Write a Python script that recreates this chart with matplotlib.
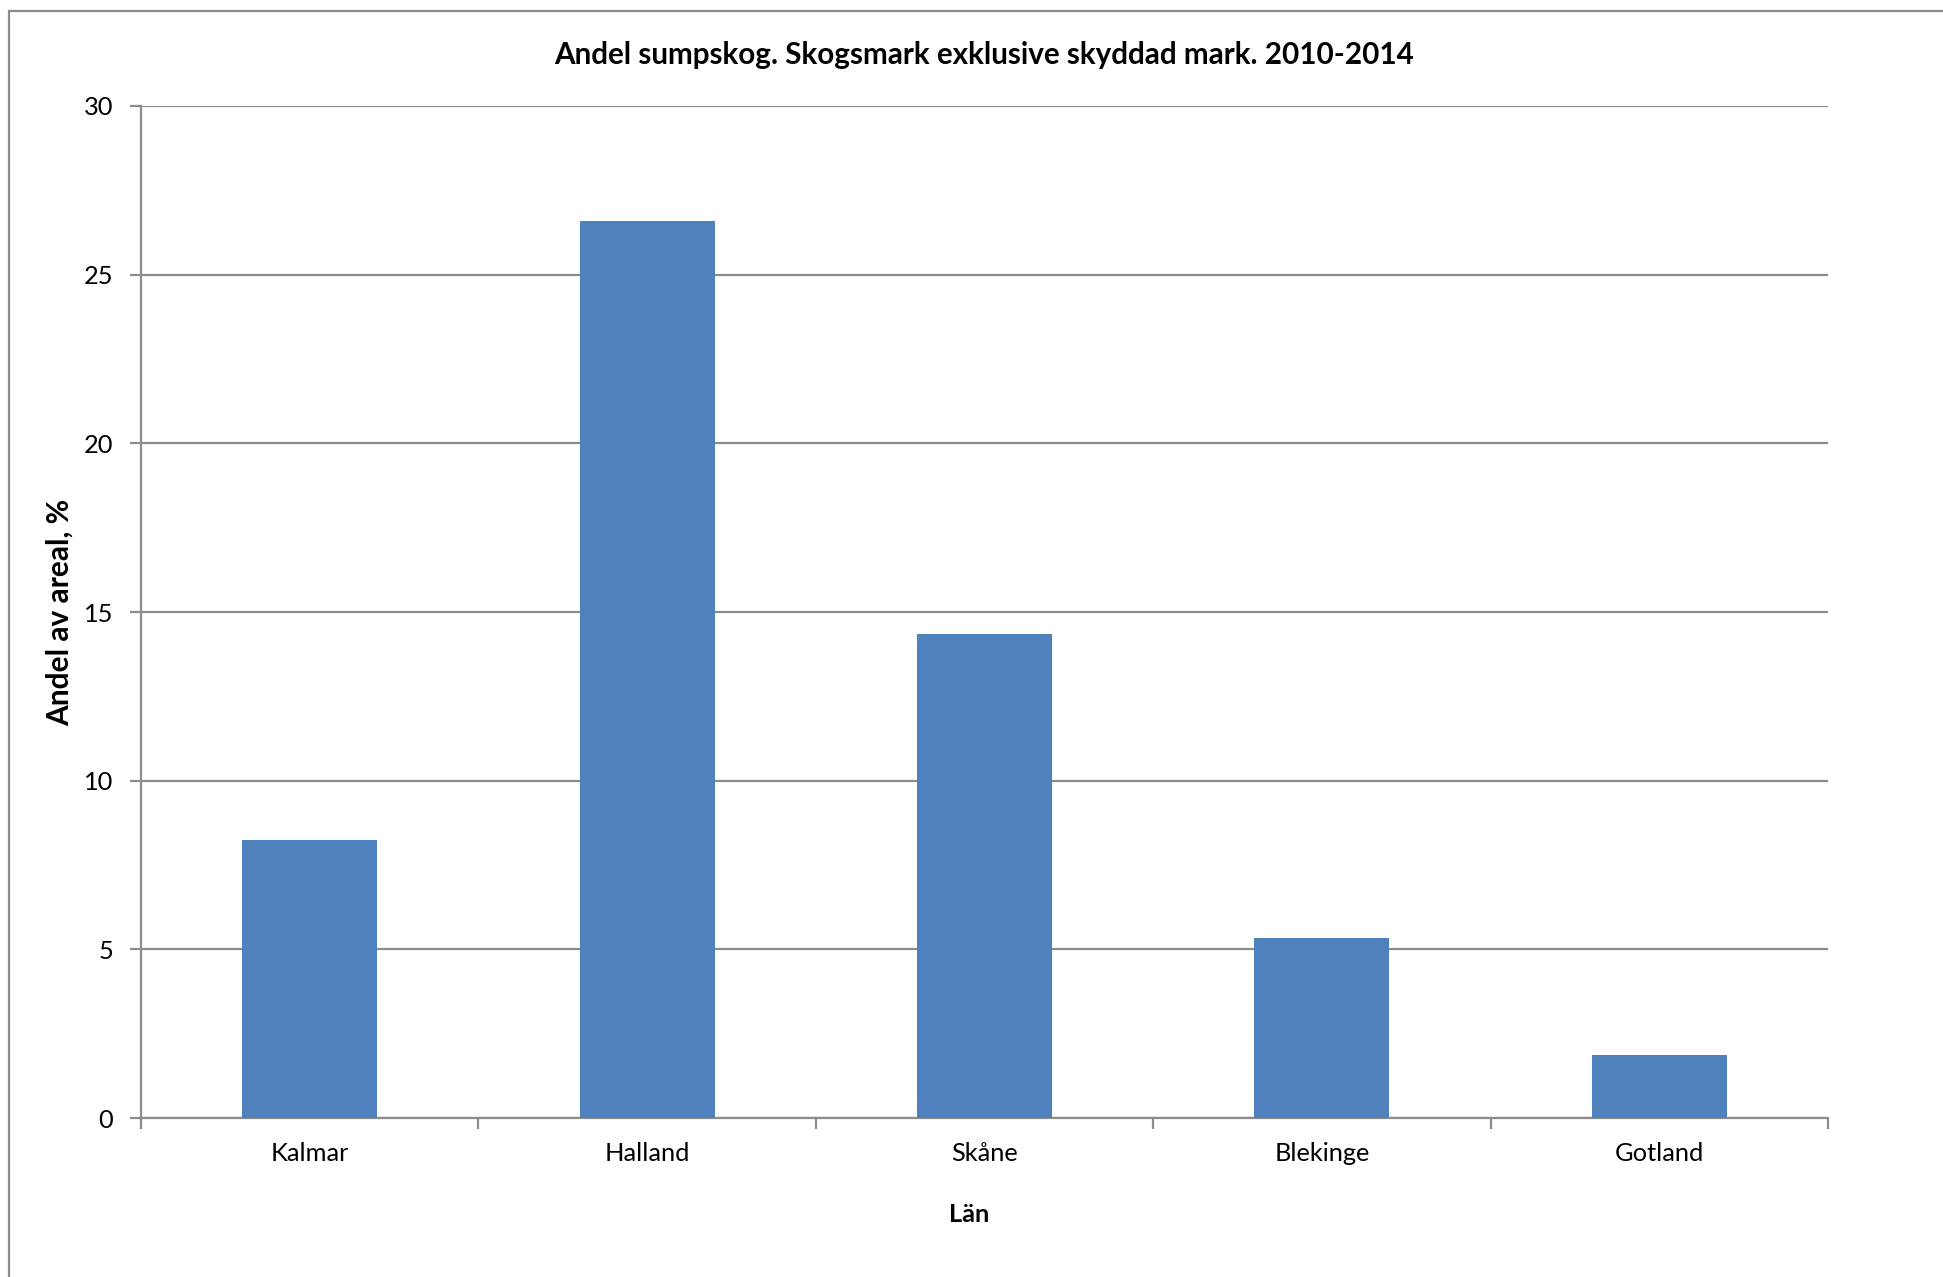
import matplotlib
matplotlib.use('Agg')
import matplotlib.pyplot as plt
from matplotlib.patches import Rectangle

# data
lan = ['Kalmar', 'Halland', 'Skåne', 'Blekinge', 'Gotland']
andel = [8.24, 26.6, 14.35, 5.33, 1.88]
y_ticks = [0, 5, 10, 15, 20, 25, 30]

plt.rcParams['font.family'] = ['Lato', 'DejaVu Sans']

grey = '#8c8c8c'
bar_color = '#4F81BD'

fig = plt.figure(figsize=(19.43, 12.77), dpi=100)
ax = fig.add_axes([0.0726, 0.1245, 0.8682, 0.7925])

x = list(range(len(lan)))
ax.bar(x, andel, width=0.4, color=bar_color, zorder=3)

ax.set_xlim(-0.5, len(lan) - 0.5)
ax.set_ylim(0, 30)
ax.set_yticks(y_ticks)
ax.set_yticklabels([str(v) for v in y_ticks], fontsize=18.3)
ax.yaxis.grid(True, color=grey, linewidth=1.6, zorder=0)

# category labels in the middle, ticks on the boundaries
ax.set_xticks(x)
ax.set_xticklabels(lan, fontsize=18.3)
ax.tick_params(axis='x', length=0, pad=17)
ax.set_xticks([i - 0.5 for i in range(len(lan) + 1)], minor=True)
ax.tick_params(axis='x', which='minor', length=8, width=1.6, color=grey)
ax.tick_params(axis='y', length=8, width=1.6, color=grey, pad=12)

for side in ['top', 'right']:
    ax.spines[side].set_visible(False)
for side in ['left', 'bottom']:
    ax.spines[side].set_color(grey)
    ax.spines[side].set_linewidth(1.6)

ax.set_title('Andel sumpskog. Skogsmark exklusive skyddad mark. 2010-2014',
             fontsize=21.3, fontweight='bold', pad=30)
ax.set_ylabel('Andel av areal, %', fontsize=21.5, fontweight='bold', labelpad=7)
ax.set_xlabel('Län', fontsize=18.3, fontweight='bold')
ax.xaxis.set_label_coords(0.491, -0.084)

# outer chart frame, cut off at right and bottom
fig.patches.append(Rectangle((9 / 1943, -0.05), 1.1, 1 - 11 / 1277 + 0.05,
                             transform=fig.transFigure, fill=False,
                             edgecolor=grey, linewidth=1.6))

fig.savefig('out.png', dpi=100)
